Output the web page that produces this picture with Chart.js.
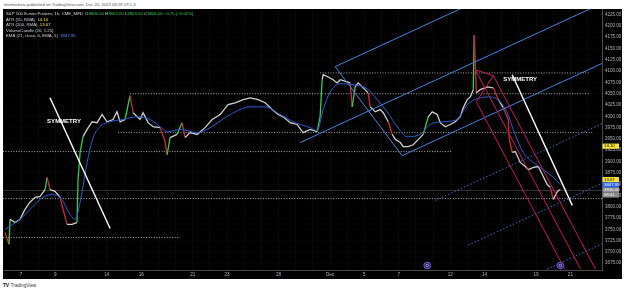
<!DOCTYPE html>
<html lang="en">
<head>
<meta charset="UTF-8" />
<title>ES1! 1h | TradingView</title>
<script src="https://cdn.jsdelivr.net/npm/chart.js@4.4.1/dist/chart.umd.min.js"></script>
<style>
  body { margin: 0; background: #fff; width: 625px; height: 292px; position: relative; overflow: hidden; font-family: "Liberation Sans", Arial, sans-serif; }
  #header { position: absolute; left: 4px; top: 2px; font-size: 4.2px; color: #555; white-space: nowrap; }
  #box { position: absolute; left: 3px; top: 9px; width: 619px; height: 270px; background: #000; }
  #footer { position: absolute; left: 3px; top: 282px; font-size: 4.6px; color: #333; white-space: nowrap; }
  #footer b { font-size: 5px; letter-spacing: -0.4px; color: #131722; margin-right: 1px; }
</style>
</head>
<body>
<div id="header">finnmarkets published on TradingView.com, Dec 20, 2022 09:29 UTC-5</div>
<div id="box"><canvas id="esChart"></canvas></div>
<div id="footer"><b>TV</b> TradingView</div>

<script>
  const family = '"Liberation Sans", Arial, sans-serif';
  const GREEN = "#2bd24b", RED = "#d8263a";

  // time axis (trading days from Nov 7)
  const dayTicks = [0, 2, 5, 7, 10, 12, 15, 18, 20, 22, 25, 27, 30, 32];
  const dayLabels = ["7", "9", "14", "16", "21", "23", "28", "Dec", "5", "7", "12", "14", "19", "21"];

  // price axis
  const priceTicks = [3675, 3700, 3725, 3750, 3775, 3800, 3825, 3850, 3875, 3900, 3925, 3950, 3975,
    4000, 4025, 4050, 4075, 4100, 4125, 4150, 4175, 4200, 4225];

  // close path
  const priceDays = [-0.93, -0.7, -0.64, -0.35, -0.06, 0.23, 0.52, 0.82, 1.11, 1.4, 1.52, 1.69, 1.98, 2.27,
    2.45, 2.68, 2.97, 3.26, 3.32, 3.44, 3.61, 3.85, 4.14, 4.43, 4.72, 5.01, 5.36, 5.59, 5.77, 6.06, 6.35,
    6.53, 6.93, 7.11, 7.4, 7.69, 8.1, 8.39, 8.51, 8.68, 9.09, 9.38, 9.56, 9.85, 10.26, 10.72, 11.13, 11.6,
    12.06, 12.47, 12.94, 13.35, 13.81, 14.22, 14.63, 14.98, 15.27, 15.68, 16.08, 16.43, 16.84, 17.25, 17.42,
    17.54, 17.6, 17.89, 18.18, 18.41, 18.59, 19.0, 19.17, 19.29, 19.46, 19.64, 19.93, 20.22, 20.34, 20.63,
    20.92, 21.1, 21.39, 21.62, 21.8, 22.09, 22.26, 22.55, 22.84, 23.25, 23.43, 23.72, 23.95, 24.24, 24.42,
    24.71, 25.0, 25.29, 25.58, 25.76, 25.99, 26.17, 26.34, 26.4, 26.52, 26.75, 27.16, 27.51, 27.8, 28.09,
    28.38, 28.44, 28.61, 28.79, 29.08, 29.37, 29.55, 29.84, 30.13, 30.42, 30.65, 30.83, 31.0, 31.24, 31.41];
  const priceClose = [3743, 3717, 3772, 3765, 3772, 3794, 3810, 3821, 3823, 3838, 3865, 3838, 3834, 3821,
    3794, 3761, 3761, 3765, 3860, 3920, 3955, 3971, 3988, 3986, 4004, 3988, 3993, 4010, 3988, 3993, 4046,
    4008, 3993, 4008, 3986, 3977, 3975, 3944, 3915, 3953, 3960, 3986, 3953, 3964, 3960, 3975, 3993, 4004,
    4026, 4030, 4037, 4041, 4037, 4030, 4015, 4004, 3999, 3986, 3982, 3964, 3971, 3966, 3999,
    4081, 4092, 4087, 4081, 4074, 4081, 4076, 4074, 4021, 4065, 4074, 4063, 4052, 4021, 4010,
    4015, 4008, 3988, 3960, 3949, 3942, 3933, 3933, 3937, 3953, 3960, 3999, 4010, 4004, 3986,
    3977, 3982, 3988, 3999, 4019, 4037, 4043, 4059, 4180, 4052, 4059, 4065, 4063, 4037, 4019,
    3993, 3949, 3920, 3922, 3898, 3889, 3882, 3887, 3889, 3867, 3849, 3843, 3816, 3834, 3838];

  // EMA (21)
  const emaDays = [-0.93, -0.06, 0.7, 1.28, 1.86, 2.39, 2.74, 3.15, 3.26, 3.55, 3.85, 4.2, 4.6, 5.19, 5.94,
    6.76, 7.52, 8.1, 8.51, 9.27, 10.26, 11.01, 12.18, 13.35, 14.22, 15.09, 15.97, 16.84, 17.25, 17.6, 18.01,
    18.59, 19.35, 20.16, 20.75, 21.33, 21.91, 22.49, 23.25, 23.83, 24.59, 25.41, 25.99, 26.57, 27.33, 27.91,
    28.32, 28.67, 29.25, 29.84, 30.42, 31.0, 31.41];
  const emaValues = [3750, 3772, 3801, 3821, 3827, 3816, 3790, 3772, 3779, 3832, 3898, 3953, 3977, 3988, 3993,
    3999, 3993, 3977, 3966, 3971, 3964, 3975, 4004, 4021, 4021, 4004, 3986, 3975, 3968, 4015, 4054,
    4072, 4070, 4061, 4037, 4010, 3977, 3955, 3960, 3982, 3988, 3993, 4026, 4039, 4043, 4032,
    4008, 3971, 3920, 3898, 3882, 3865, 3849];

  // dotted horizontal levels
  const levelPrices = [4096, 4050, 3964, 3922, 3818, 3732];
  const levelFrom = [17.42, 6.35, 5.65, -1.05, -1.05, -1.05];
  const levelTo = [33.16, 33.16, 33.33, 25.12, 33.84, 9.27];
  const lastPrice = 3836;

  // drawings: [day1, price1, day2, price2]
  const channelLines = [[18.3, 4110, 26.17, 4248], [16.26, 3942, 33.84, 4250], [22.2, 3913, 33.84, 4117], [18.3, 4110, 22.2, 3913]];
  const channelDotted = [[24.13, 3814, 33.84, 3984], [26.05, 3715, 33.84, 3852], [30.65, 3662, 33.84, 3718]];
  const pitchforkLines = [[26.46, 4103, 32.59, 3662], [26.52, 4032, 31.67, 3662], [27.51, 4090, 33.46, 3662],
    [26.52, 4032, 27.51, 4090], [26.46, 4103, 27.51, 4090]];
  const symmetryLines = [[1.69, 4041, 5.19, 3752], [28.61, 4092, 32.11, 3803]];
  const symmetryDays = [1.52, 28.09];
  const symmetryPrices = [3988, 4081];

  const eventDays = [23.66, 31.41];

  // legend values
  const ohlc = ["3806.50", "3807.00", "3803.00", "3806.00"];
  const change = "\u22120.75 (\u22120.02%)";
  const atr55 = "14.10", atr200 = "13.67", emaLast = "3847.95";

  // price axis tags
  const tagTexts = ["14.10", "13.67", "3847.95", "3836.00", "38:41"];
  const tagPrices = [3934, 3860, 3848, 3837, 3826];
  const tagBg = ["#f5e33b", "#f5e33b", "#2962ff", "#8c8c8c", "#8c8c8c"];
  const tagFg = ["#000", "#000", "#fff", "#f2f2f2", "#f2f2f2"];

  function seg(line, color, width, dash, order) {
    return {
      data: [{ x: line[0], y: line[1] }, { x: line[2], y: line[3] }],
      borderColor: color, borderWidth: width, borderDash: dash || [],
      pointRadius: 0, order: order,
    };
  }

  const datasets = [];
  levelPrices.forEach((p, i) =>
    datasets.push(seg([levelFrom[i], p, levelTo[i], p], "#a8a8a8", 1, [1, 1.6], 9)));
  datasets.push(seg([-1.05, lastPrice, 33.84, lastPrice], "rgba(190,190,190,0.4)", 0.7, [], 8));
  datasets.push({
    data: priceDays.map((d, i) => ({ x: d, y: priceClose[i] })),
    borderColor: "#d0d0d0", borderWidth: 1.3, pointRadius: 0, order: 6,
    segment: {
      borderColor: (c) => {
        const dy = c.p1.parsed.y - c.p0.parsed.y;
        return dy >= 25 ? GREEN : dy <= -25 ? RED : undefined;
      },
    },
  });
  datasets.push({
    data: emaDays.map((d, i) => ({ x: d, y: emaValues[i] })),
    borderColor: "#2f5bd0", borderWidth: 1, pointRadius: 0, order: 5,
    cubicInterpolationMode: "monotone",
  });
  channelLines.forEach((l) => datasets.push(seg(l, "#4a80e0", 1, [], 3)));
  channelDotted.forEach((l) => datasets.push(seg(l, "#3f6fc8", 1, [1.5, 2], 3)));
  pitchforkLines.forEach((l) => datasets.push(seg(l, "#d0145c", 1, [], 2)));
  symmetryLines.forEach((l) => datasets.push(seg(l, "#ffffff", 1.4, [], 1)));

  function drawRuns(ctx, x0, yMid, runs) {
    let xx = x0;
    runs.forEach(([t, c]) => {
      ctx.fillStyle = c;
      ctx.fillText(t, xx, yMid);
      xx += ctx.measureText(t).width;
    });
  }

  const overlay = {
    id: "overlay",
    afterDatasetsDraw(chart) {
      const { ctx, chartArea, scales: { x, y } } = chart;
      ctx.save();
      ctx.beginPath();
      ctx.rect(chartArea.left, chartArea.top, chartArea.width, chartArea.height);
      ctx.clip();
      ctx.fillStyle = "#fff";
      ctx.font = "bold 6px " + family;
      ctx.textBaseline = "middle";
      symmetryDays.forEach((d, i) =>
        ctx.fillText("SYMMETRY", x.getPixelForValue(d), y.getPixelForValue(symmetryPrices[i])));
      eventDays.forEach((d) => {
        const cx = x.getPixelForValue(d), cy = chartArea.bottom - 4.5;
        ctx.beginPath();
        ctx.arc(cx, cy, 3.4, 0, Math.PI * 2);
        ctx.fillStyle = "#2b1f6b";
        ctx.fill();
        ctx.lineWidth = 0.8;
        ctx.strokeStyle = "#7e6fe0";
        ctx.stroke();
        ctx.beginPath();
        ctx.arc(cx, cy, 1.3, 0, Math.PI * 2);
        ctx.strokeStyle = "#b9b0ff";
        ctx.stroke();
      });
      ctx.restore();
    },
    afterDraw(chart) {
      const { ctx, chartArea, scales: { y } } = chart;
      ctx.save();
      ctx.textBaseline = "middle";
      ctx.font = "4.3px " + family;
      const base = "#d1d4dc";
      drawRuns(ctx, 3, 5, [["S&P 500 E-mini Futures, 1h, CME_MINI  ", base],
        ["O", base], [ohlc[0] + " ", GREEN], ["H", base], [ohlc[1] + " ", GREEN],
        ["L", base], [ohlc[2] + " ", GREEN], ["C", base], [ohlc[3] + " ", GREEN], [change, GREEN]]);
      drawRuns(ctx, 3, 10.5, [["ATR (55, RMA)  ", base], [atr55, "#f5e33b"]]);
      drawRuns(ctx, 3, 16, [["ATR (200, RMA)  ", base], [atr200, "#f5e33b"]]);
      drawRuns(ctx, 3, 21.5, [["VolumeCandle (20, 1.25)", base]]);
      drawRuns(ctx, 3, 27, [["EMA (21, close, 0, EMA, 5)  ", base], [emaLast, "#5b8cff"]]);

      tagTexts.forEach((t, i) => {
        const yy = y.getPixelForValue(tagPrices[i]);
        ctx.fillStyle = tagBg[i];
        ctx.fillRect(chartArea.right + 0.5, yy - 2.6, 16.5, 5.2);
        ctx.fillStyle = tagFg[i];
        ctx.fillText(t, chartArea.right + 2, yy);
      });
      ctx.restore();
    },
  };

  new Chart(document.getElementById("esChart"), {
    type: "line",
    data: { datasets },
    options: {
      responsive: true,
      maintainAspectRatio: false,
      animation: false,
      layout: { padding: 0 },
      plugins: { legend: { display: false }, tooltip: { enabled: false } },
      scales: {
        x: {
          type: "linear", min: -1.05, max: 33.84,
          afterBuildTicks: (s) => {
            s.ticks = [];
            for (let i = -1; i <= 33; i++) s.ticks.push({ value: i });
          },
          ticks: {
            autoSkip: false, maxRotation: 0, color: "#b2b5be", padding: 2,
            font: { size: 4.6, family: "Liberation Sans" },
            callback: (v) => {
              const i = dayTicks.indexOf(v);
              return i < 0 ? "" : dayLabels[i];
            },
          },
          grid: { color: "rgba(255,255,255,0.035)", drawTicks: false },
          border: { color: "#4a4a4a" },
          afterFit: (s) => { s.height = 9; s.paddingLeft = 0; s.paddingRight = 0; },
        },
        y: {
          type: "linear", position: "right", min: 3660, max: 4237.5,
          afterBuildTicks: (s) => { s.ticks = priceTicks.map((v) => ({ value: v })); },
          ticks: {
            color: "#b2b5be", padding: 3,
            font: { size: 4.5, family: "Liberation Sans" },
            callback: (v) => Number(v).toFixed(2),
          },
          grid: { color: "rgba(255,255,255,0.02)", drawTicks: false },
          border: { color: "#4a4a4a" },
          afterFit: (s) => { s.width = 20; s.paddingTop = 0; s.paddingBottom = 0; },
        },
      },
    },
    plugins: [overlay],
  });
</script>
</body>
</html>
